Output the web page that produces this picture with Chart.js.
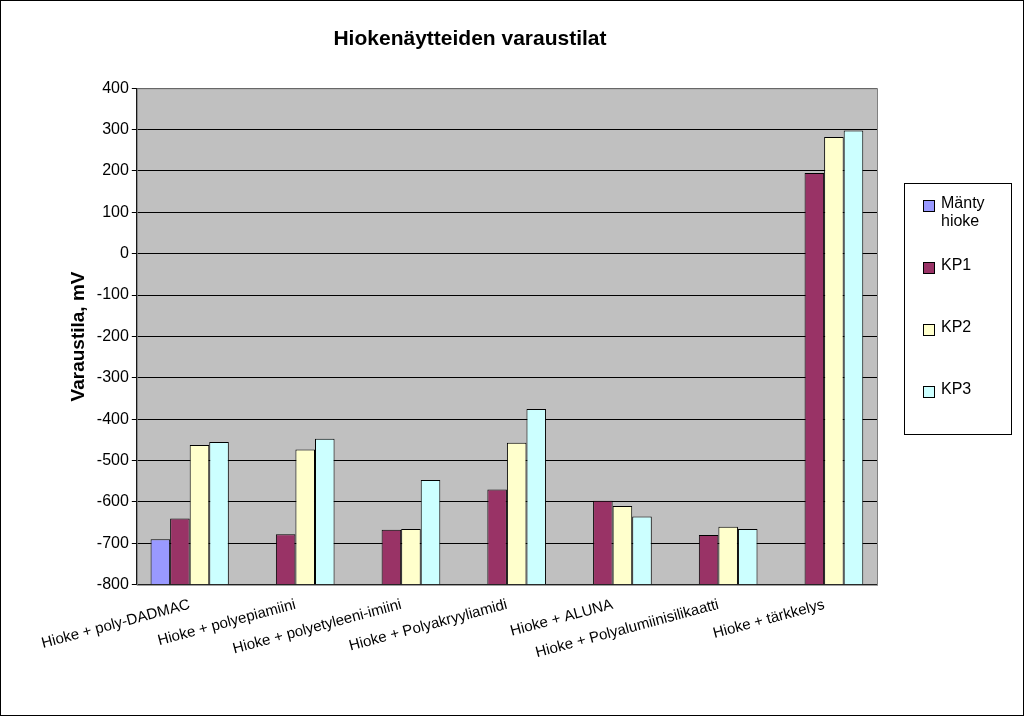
<!DOCTYPE html>
<html lang="fi">
<head>
<meta charset="UTF-8">
<title>Hiokenäytteiden varaustilat</title>
<script src="https://cdn.jsdelivr.net/npm/chart.js"></script>
<style>
  body { margin: 0; background: #fff; }
  #wrap { position: relative; width: 1022px; height: 714px; border: 1px solid #000; }
  #legend { position: absolute; left: 903px; top: 182px; width: 108px; height: 252px; border: 1px solid #000;
    font: 16px "Liberation Sans", Arial, sans-serif; box-sizing: border-box; padding-top: 10px; }
  .item { display: flex; align-items: flex-start; margin-left: 18px; height: 62px; }
  .sw { width: 10px; height: 10px; border: 1px solid #000; margin-top: 6px; margin-right: 6px; flex: none; }
</style>
</head>
<body>
<div id="wrap">
  <canvas id="c" width="1022" height="714"></canvas>
  <div id="legend"></div>
</div>
<script>
const categories = ['Hioke + poly-DADMAC', 'Hioke + polyepiamiini', 'Hioke + polyetyleeni-imiini',
  'Hioke + Polyakryyliamidi', 'Hioke + ALUNA', 'Hioke + Polyalumiinisilikaatti', 'Hioke + tärkkelys'];
const seriesNames = ['Mänty hioke', 'KP1', 'KP2', 'KP3'];
const manty = [-690, null, null, null, null, null, null];
const kp1 = [-640, -678, -667, -570, -597, -680, 195];
const kp2 = [-462, -473, -665, -457, -610, -660, 282];
const kp3 = [-455, -447, -547, -375, -635, -665, 298];
const colors = ['#9999FF', '#993366', '#FFFFCC', '#CCFFFF'];

const font = '"Liberation Sans", Arial, sans-serif';
const allData = [manty, kp1, kp2, kp3];

const legend = document.getElementById('legend');
seriesNames.forEach((n, i) => {
  const d = document.createElement('div');
  d.className = 'item';
  d.innerHTML = `<span class="sw" style="background:${colors[i]}"></span><span style="width:70px">${n}</span>`;
  legend.appendChild(d);
});

const bgPlugin = {
  id: 'bg',
  beforeDraw(chart) {
    const a = chart.chartArea, ctx = chart.ctx;
    ctx.save();
    ctx.fillStyle = '#C0C0C0';
    ctx.fillRect(a.left, a.top, a.right - a.left, a.bottom - a.top);
    ctx.restore();
  },
  afterDraw(chart) {
    const a = chart.chartArea, ctx = chart.ctx;
    ctx.save();
    ctx.strokeStyle = '#808080';
    ctx.lineWidth = 1;
    ctx.strokeRect(a.left + 0.5, a.top + 0.5, a.right - a.left, a.bottom - a.top);
    ctx.restore();
  }
};

new Chart(document.getElementById('c'), {
  type: 'bar',
  data: {
    labels: categories,
    datasets: seriesNames.map((n, i) => ({
      label: n,
      data: allData[i],
      base: -800,
      backgroundColor: colors[i],
      borderColor: '#000',
      borderWidth: 1,
      categoryPercentage: 0.74,
      barPercentage: 1
    }))
  },
  options: {
    responsive: false,
    animation: false,
    layout: { padding: { left: 62, right: 146, top: 20, bottom: 50 } },
    plugins: {
      legend: { display: false },
      tooltip: { enabled: false },
      title: { display: true, text: 'Hiokenäytteiden varaustilat', color: '#000',
        font: { family: font, size: 21, weight: 'bold' }, padding: { top: 6, bottom: 36 } }
    },
    scales: {
      x: {
        grid: { display: false },
        border: { color: '#000' },
        ticks: { color: '#000', minRotation: 15, maxRotation: 15, font: { family: font, size: 15 } }
      },
      y: {
        min: -800, max: 400,
        grid: { color: '#000', drawTicks: true, tickLength: 5 },
        border: { color: '#000' },
        ticks: { stepSize: 100, color: '#000', font: { family: font, size: 16 } },
        title: { display: true, text: 'Varaustila, mV', color: '#000', font: { family: font, size: 19, weight: 'bold' } }
      }
    }
  },
  plugins: [bgPlugin]
});
</script>
</body>
</html>
